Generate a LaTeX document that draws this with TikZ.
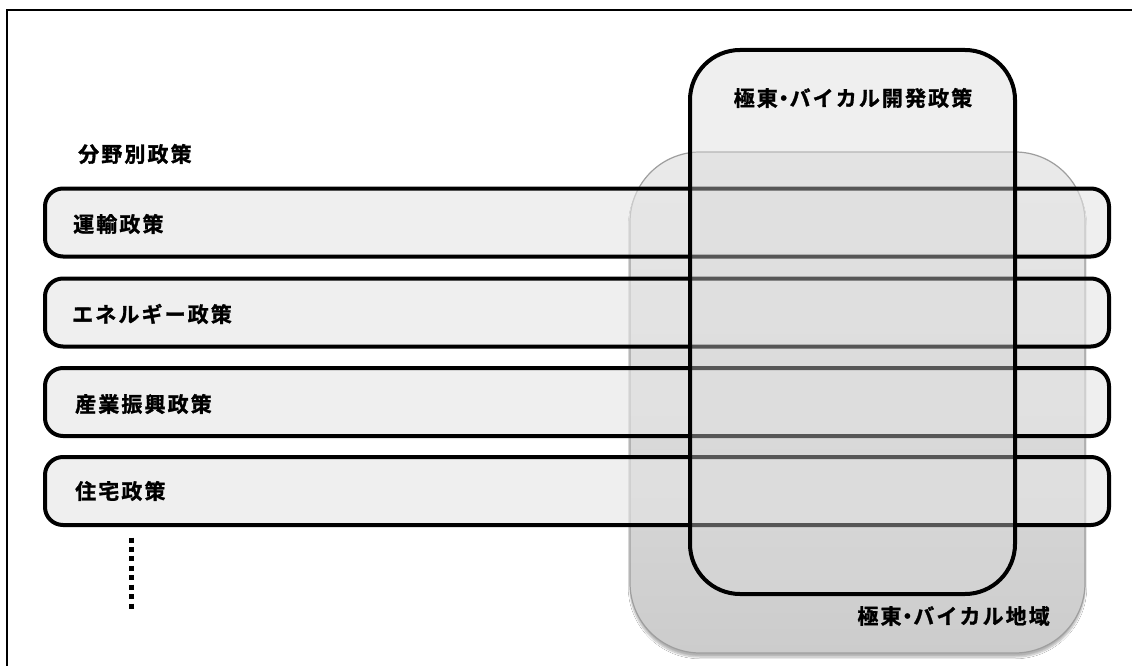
\documentclass[tikz,border=0pt]{standalone}
\usepackage{fontspec}
\usetikzlibrary{shadows.blur}
\newfontfamily\jpb{Noto Sans CJK JP Bold}[LetterSpace=10, FakeBold=1.3]
\definecolor{barfill}{gray}{0.90}
\definecolor{polfill}{gray}{0.85}
\definecolor{regtop}{gray}{0.92}
\definecolor{regbot}{gray}{0.80}
\definecolor{regline}{gray}{0.62}
\newcommand{\nakaguro}{\kern-0.22em・\kern-0.22em}
\begin{document}
\begin{tikzpicture}[x=1pt,y=-1pt,
  lbl/.style={font=\jpb\fontsize{21}{24}\selectfont, inner sep=0pt, text=black},
  regionbox/.style={draw=regline, line width=1.2pt, rounded corners=70pt,
    top color=regtop, bottom color=regbot,
    blur shadow={shadow blur steps=8, shadow xshift=0pt, shadow yshift=-4pt, shadow opacity=30},
    minimum width=455pt, minimum height=501pt, inner sep=0pt},
  barbox/.style={draw=black, line width=4pt, rounded corners=18pt,
    fill=barfill, fill opacity=0.6, draw opacity=1,
    minimum width=1064pt, minimum height=68pt, inner sep=0pt},
  polbox/.style={draw=black, line width=4pt, rounded corners=50pt,
    fill=polfill, fill opacity=0.4, draw opacity=1,
    minimum width=325pt, minimum height=544pt, inner sep=0pt}]
\useasboundingbox (0,0) rectangle (1132,666);
\fill[white] (0,0) rectangle (1132,666);
% frame
\draw[line width=2pt] (7,666) -- (7,10) -- (1132,10);
% region
\node[regionbox] (region) at (857.5,402.5) {};
% bars
\node[barbox] (bar1) at (577,222.5) {};
\node[barbox] (bar2) at (577,312.5) {};
\node[barbox] (bar3) at (577,402) {};
\node[barbox] (bar4) at (577,491) {};
% policy box
\node[polbox] (policy) at (852.5,322) {};
% labels
\node[lbl, anchor=west] (bunya) at (78,154) {分野別政策};
\node[lbl, anchor=west] (t1) at (73,224) {運輸政策};
\node[lbl, anchor=west] (t2) at (72,314) {エネルギー政策};
\node[lbl, anchor=west] (t3) at (75,404) {産業振興政策};
\node[lbl, anchor=west] (t4) at (75,491) {住宅政策};
\node[lbl] (poltxt) at (853,98) {極東\nakaguro バイカル開発政策};
\node[lbl, anchor=east] (regtxt) at (1050,616) {極東\nakaguro バイカル地域};
% dots
\coordinate (dtop) at (131,537.5);
\coordinate (dbot) at (131,608.5);
\draw[line width=5pt, dash pattern=on 5pt off 4.43pt] (dtop) -- (dbot);
\end{tikzpicture}
\end{document}
